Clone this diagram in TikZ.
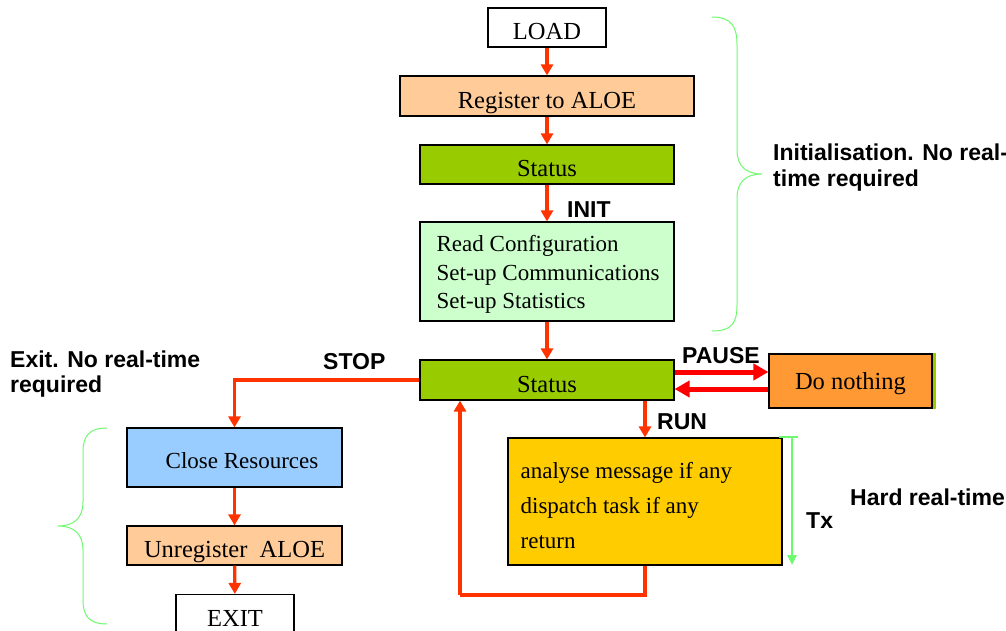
\documentclass[tikz,border=0pt]{standalone}
\usepackage{fontspec}
\setmainfont{Liberation Serif}
\newfontfamily\labelfont{Liberation Sans}
\usetikzlibrary{arrows.meta}

\definecolor{flowred}{RGB}{255,51,0}
\definecolor{pausered}{RGB}{255,0,0}
\definecolor{statusgreen}{RGB}{153,204,0}
\definecolor{peach}{RGB}{255,204,153}
\definecolor{mint}{RGB}{204,255,204}
\definecolor{orangebox}{RGB}{255,153,51}
\definecolor{goldbox}{RGB}{255,204,0}
\definecolor{skyblue}{RGB}{153,204,255}
\definecolor{bracegreen}{RGB}{110,250,110}

\tikzset{
  box/.style={draw=black, line width=1.1pt, inner sep=0pt,
    font=\fontsize{24.5}{28}\selectfont},
  oneline/.style={text height=24.5pt, text depth=0pt},
  boxtext/.style={anchor=west, inner sep=0pt, align=left},
  flow/.style={draw=flowred, line width=3.2pt,
    -{Triangle[length=11pt,width=12pt]}},
  pauseflow/.style={draw=pausered, line width=5pt,
    -{Triangle[length=15pt,width=16pt]}},
  lbl/.style={anchor=base west, inner sep=0pt,
    font=\labelfont\bfseries\fontsize{23}{26}\selectfont},
  brace/.style={draw=bracegreen, line width=1pt},
}

\begin{document}
\begin{tikzpicture}[x=1pt,y=-1pt]
\useasboundingbox (0,0) rectangle (1006,631);

% start-up chain
\node[box, oneline, fill=white, minimum width=118pt, minimum height=39pt] (load) at (547,27.5) {LOAD};
\node[box, oneline, fill=peach, minimum width=294pt, minimum height=40pt] (reg) at (547,96) {Register to ALOE};
\node[box, oneline, fill=statusgreen, minimum width=254pt, minimum height=39pt] (st1) at (547,164.5) {Status};
\node[box, fill=mint, minimum width=254pt, minimum height=99pt] (cfg) at (547,271.5) {};
\node[boxtext, font=\fontsize{23}{28.5}\selectfont] (cfgtext) at ([xshift=17pt,yshift=-3pt]cfg.west)
      {Read Configuration\\Set-up Communications\\Set-up Statistics};

% main loop
\node[box, oneline, fill=statusgreen, minimum width=254pt, minimum height=40pt] (st2) at (547,380) {Status};
\node[box, fill=orangebox, minimum width=163pt, minimum height=54pt,
      text height=22pt, text depth=6pt] (dn) at (850.5,381) {Do nothing};
\fill[statusgreen] (dn.north east) rectangle ([xshift=3pt]dn.south east);
\node[box, fill=goldbox, minimum width=274pt, minimum height=127pt] (yel) at (645,501.5) {};
\node[boxtext, font=\fontsize{23}{35}\selectfont] (yeltext) at ([xshift=13pt,yshift=-4pt]yel.west)
      {analyse message if any\\dispatch task if any\\return};

% shutdown chain
\node[box, fill=skyblue, minimum width=215pt, minimum height=59pt,
      text height=22pt, text depth=0pt,
      font=\fontsize{23}{28}\selectfont] (close) at (234.5,457.5) {\hspace{15pt}Close Resources};
\node[box, oneline, fill=peach, minimum width=215pt, minimum height=39pt] (unreg) at (234.5,545.5) {Unregister\ \ ALOE};
\node[box, oneline, fill=white, minimum width=118pt, minimum height=39pt] (exit) at (235,614) {EXIT};

% connectors
\draw[flow] (load) -- (reg);
\draw[flow] (reg) -- (st1);
\draw[flow] (st1) -- (cfg);
\draw[flow] (cfg) -- (st2);
\draw[flow] (st2.west) -| (close.north);
\draw[flow] (close) -- (unreg);
\draw[flow] (unreg) -- (exit);
\draw[flow] (st2.south -| yel.north) -- (yel.north);
\coordinate (loopcorner) at (460,595);
\draw[flow, -] (yel.south) |- (loopcorner);
\draw[flow] (loopcorner) -- (loopcorner |- st2.south);
\draw[pauseflow] ([yshift=8pt]st2.east) -- ([yshift=8pt]st2.east -| dn.west);
\draw[pauseflow] ([yshift=-9pt]st2.east -| dn.west) -- ([yshift=-9pt]st2.east);

% timing marker beside the real-time block
\coordinate (txtop) at (792,437);
\coordinate (txbot) at (792,565);
\draw[draw=bracegreen, line width=1.5pt] ([xshift=-13pt]txtop) -- ([xshift=6pt]txtop);
\draw[draw=bracegreen, line width=2.5pt, -{Triangle[length=10pt,width=9pt]}] (txtop) -- (txbot);

% braces
\draw[brace] (712,17) .. controls (732,17) and (737,27) .. (737,45) -- (737,150)
  .. controls (737,166) and (746,174) .. (762,174)
  .. controls (746,174) and (737,182) .. (737,198) -- (737,305)
  .. controls (737,323) and (732,331) .. (712,331);
\draw[brace] (107,428) .. controls (89,428) and (83,436) .. (83,452) -- (83,502)
  .. controls (83,518) and (74,526) .. (58,526)
  .. controls (74,526) and (83,534) .. (83,550) -- (83,600)
  .. controls (83,616) and (89,624) .. (107,624);

% labels
\node[lbl] (initlbl) at (567,218) {INIT};
\node[lbl] (stoplbl) at (323,369) {STOP};
\node[lbl] (pauselbl) at (682,363) {PAUSE};
\node[lbl] (runlbl) at (657,429) {RUN};
\node[lbl] (txlbl) at (806,528) {Tx};
\node[lbl] (hardlbl) at (850,505) {Hard real-time};
\node[lbl] (initnoteA) at (773,161) {Initialisation. No real-};
\node[lbl] (initnoteB) at (773,187) {time required};
\node[lbl] (exitnoteA) at (10,367) {Exit. No real-time};
\node[lbl] (exitnoteB) at (10,392) {required};
\end{tikzpicture}
\end{document}
